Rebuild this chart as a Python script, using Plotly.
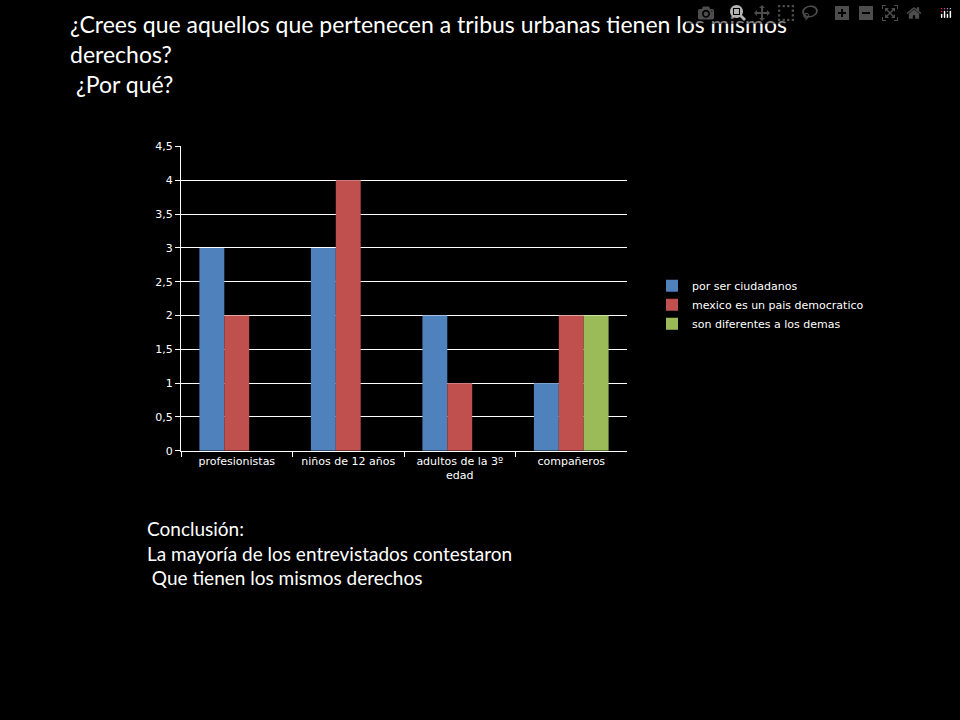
import plotly.graph_objects as go

categories = ["profesionistas", "niños de 12 años", "adultos de la 3º<br>edad", "compañeros"]
series_names = ["por ser ciudadanos", "mexico es un pais democratico", "son diferentes a los demas"]
ciudadanos = [3, 3, 2, 1]
democratico = [2, 4, 1, 2]
diferentes = [None, None, None, 2]
colors = ["#4f81bd", "#c0504d", "#9bbb59"]

fig = go.Figure()
for name, vals, c in zip(series_names, [ciudadanos, democratico, diferentes], colors):
    fig.add_trace(go.Bar(x=categories, y=vals, name=name, marker=dict(color=c, line=dict(width=0))))

fig.update_layout(
    width=960, height=720,
    paper_bgcolor="black", plot_bgcolor="black",
    barmode="group", bargap=0.33, bargroupgap=0,
    margin=dict(l=0, r=0, t=0, b=0),
    font=dict(family="DejaVu Sans", color="white", size=10),
    xaxis=dict(domain=[181/960, 627/960], showline=True, linecolor="white",
               ticks="outside", tickcolor="white", ticklen=5, tickson="boundaries",
               tickfont=dict(size=11)),
    yaxis=dict(domain=[1-453/720, 1-143/720], range=[0, 4.5], dtick=0.5,
               showgrid=True, gridcolor="white", gridwidth=1, showline=True, linecolor="white",
               ticks="outside", tickcolor="white", ticklen=5,
               tickformat=".1~f", zeroline=False, tickfont=dict(size=11)),
    separators=",.",
    legend=dict(x=652/960, y=1-270/720, xanchor="left", yanchor="top",
                font=dict(size=11, color="white"), bgcolor="rgba(0,0,0,0)"),
    showlegend=True,
)

fig.add_annotation(xref="paper", yref="paper", x=68/960, y=1-2/720, xanchor="left", yanchor="top",
                   align="left", showarrow=False,
                   text="¿Crees que aquellos que pertenecen a tribus urbanas tienen los mismos<br>derechos?<br> ¿Por qué?",
                   font=dict(family="Lato", size=23, color="white"))
fig.add_annotation(xref="paper", yref="paper", x=145/960, y=1-518/720, xanchor="left", yanchor="top",
                   align="left", showarrow=False,
                   text="Conclusión:<br>La mayoría de los entrevistados contestaron<br> Que tienen los mismos derechos",
                   font=dict(family="Lato", size=19, color="white"))

fig.write_html("out.html",
               post_script="document.body.style.margin='0';document.body.style.background='black';")
